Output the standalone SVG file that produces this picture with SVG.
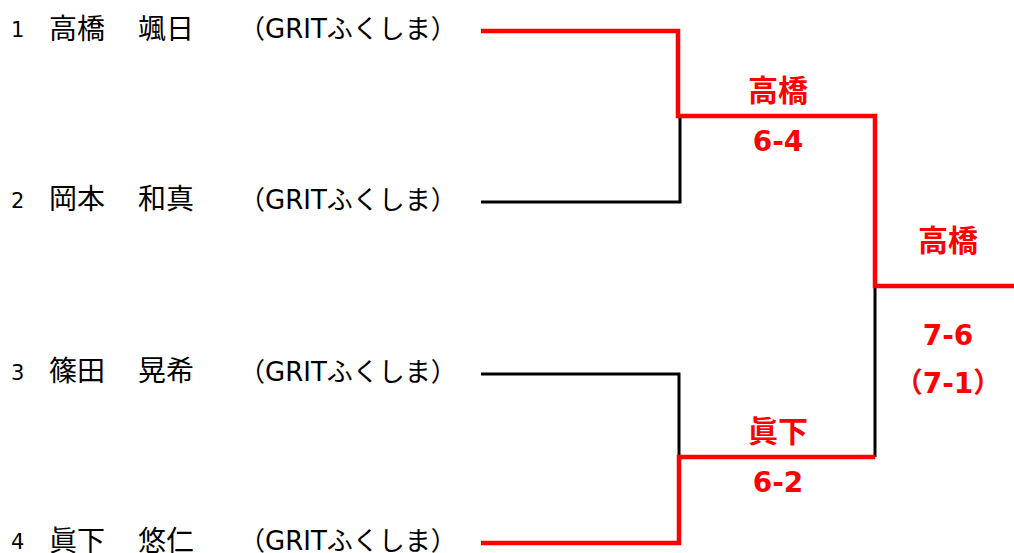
<svg xmlns="http://www.w3.org/2000/svg" width="1014" height="553" viewBox="0 0 1014 553">
<style>
.num{font-family:"DejaVu Sans","Noto Sans CJK JP",sans-serif;font-size:21px;fill:#000}
.name{font-family:"Noto Sans CJK JP",sans-serif;font-size:28px;fill:#000}
.team{font-family:"DejaVu Sans","Noto Sans CJK JP",sans-serif;font-size:26px;fill:#000}
.res{font-family:"Noto Sans CJK JP",sans-serif;font-size:30px;font-weight:bold;fill:#ff0000;text-anchor:middle}
.sc{font-family:"DejaVu Sans","Noto Sans CJK JP",sans-serif;font-size:28px;font-weight:bold;fill:#ff0000;text-anchor:middle}
.bk{fill:none;stroke:#000;stroke-width:3}
.rd{fill:none;stroke:#ff0000;stroke-width:4.5}
</style>
<rect width="1014" height="553" fill="#fff"/>
<g id="p1"><text class="num" x="11" y="37">1</text><text class="name" x="49" y="39">高橋</text><text class="name" x="138" y="39">颯日</text><text class="team" x="239" y="38">（GRITふくしま）</text></g>
<g id="p2"><text class="num" x="11" y="208">2</text><text class="name" x="49" y="209">岡本</text><text class="name" x="138" y="209">和真</text><text class="team" x="239" y="209">（GRITふくしま）</text></g>
<g id="p3"><text class="num" x="11" y="380">3</text><text class="name" x="49" y="381">篠田</text><text class="name" x="138" y="381">晃希</text><text class="team" x="239" y="381">（GRITふくしま）</text></g>
<g id="p4"><text class="num" x="11" y="549">4</text><text class="name" x="49" y="551">眞下</text><text class="name" x="138" y="551">悠仁</text><text class="team" x="239" y="550">（GRITふくしま）</text></g>
<g id="connectors">
<polyline class="bk" points="680,116 680,202 481,202"/>
<polyline class="bk" points="875,286 875,457"/>
<polyline class="bk" points="481,374 679,374 679,457"/>
<polyline class="rd" points="481,31 678,31 678,116 875,116 875,286 1014,286"/>
<polyline class="rd" points="875,457 679,457 679,543 481,543"/>
</g>
<g id="labels">
<text class="res" x="778" y="101">高橋</text>
<text class="sc" x="778" y="151">6-4</text>
<text class="res" x="948" y="251">高橋</text>
<text class="sc" x="948" y="345">7-6</text>
<text class="sc" x="948" y="393">（7-1）</text>
<text class="res" x="778" y="442">眞下</text>
<text class="sc" x="778" y="492">6-2</text>
</g>
</svg>
